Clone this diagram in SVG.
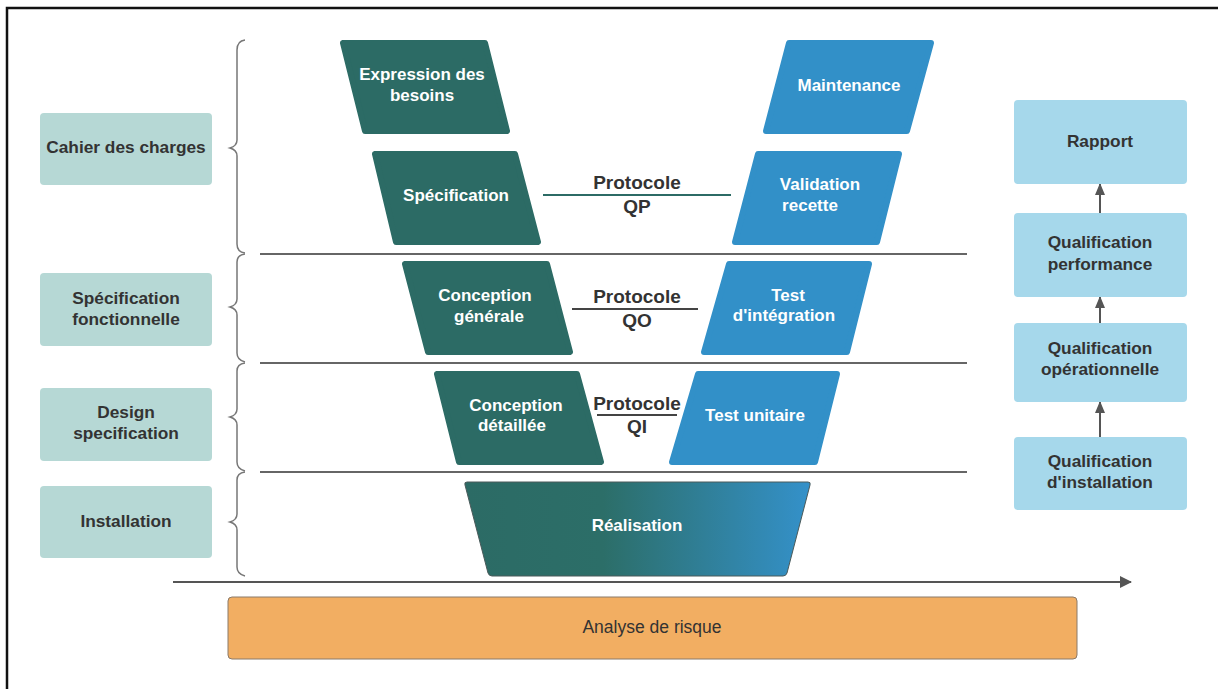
<svg xmlns="http://www.w3.org/2000/svg" width="1218" height="689" viewBox="0 0 1218 689">
<style>
.g{fill:#2c6b65;stroke:#2c6b65;stroke-width:6;stroke-linejoin:round}
.b{fill:#3290c8;stroke:#3290c8;stroke-width:6;stroke-linejoin:round}
.lb{fill:#b6d8d5}
.rb{fill:#a6d8eb}
.wt{font-family:"Liberation Sans",Arial,sans-serif;font-weight:bold;font-size:17px;fill:#ffffff;text-anchor:middle}
.dt{font-family:"Liberation Sans",Arial,sans-serif;font-weight:bold;font-size:17.3px;fill:#333333;text-anchor:middle}
.pt{font-family:"Liberation Sans",Arial,sans-serif;font-weight:bold;font-size:19px;fill:#333333;text-anchor:middle}
.br{fill:none;stroke:#777;stroke-width:1.5}
.hl{stroke:#666;stroke-width:1.8}
.ar{stroke:#555;stroke-width:2;fill:none}
</style>
<defs>
<linearGradient id="grad" x1="0" y1="0" x2="1" y2="0">
<stop offset="0" stop-color="#2c6b65"/>
<stop offset="0.4" stop-color="#2c6e68"/>
<stop offset="1" stop-color="#3491ca"/>
</linearGradient>
<marker id="ah" markerWidth="12" markerHeight="12" refX="11" refY="6" orient="auto" markerUnits="userSpaceOnUse">
<path d="M0,1 L12,6 L0,11 z" fill="#555"/>
</marker>
<marker id="ah2" markerWidth="12" markerHeight="12" refX="11" refY="6" orient="auto" markerUnits="userSpaceOnUse">
<path d="M0,0 L12,6 L0,12 z" fill="#555"/>
</marker>
</defs>
<rect x="0" y="0" width="1218" height="689" fill="#ffffff"/>
<rect x="7" y="8" width="1230" height="700" fill="none" stroke="#111" stroke-width="2.5"/>

<g id="connectors">
<path class="br" d="M245,40 Q237,41 237,50 L237,140 Q237,146 230,148 Q237,150 237,156 L237,244 Q237,252 245,253"/>
<path class="br" d="M237,262 L237,299 Q237,305 230,307 Q237,309 237,315 L237,353 Q237,360 245,362 M237,262 Q237,255 245,254"/>
<path class="br" d="M245,363 Q237,364 237,371 L237,409 Q237,415 230,417 Q237,419 237,425 L237,462 Q237,469 245,471"/>
<path class="br" d="M245,472 Q237,473 237,480 L237,514 Q237,520 230,522 Q237,524 237,530 L237,567 Q237,574 245,576"/>
<line class="hl" x1="260" y1="254" x2="967" y2="254"/>
<line class="hl" x1="260" y1="363" x2="967" y2="363"/>
<line class="hl" x1="260" y1="472" x2="967" y2="472"/>
<line x1="173" y1="582" x2="1131" y2="582" stroke="#555" stroke-width="2" marker-end="url(#ah2)"/>
<line x1="543" y1="195" x2="731" y2="195" stroke="#2c6b65" stroke-width="1.8"/>
<line x1="572" y1="309" x2="698" y2="309" stroke="#444" stroke-width="1.8"/>
<line x1="597" y1="415" x2="677" y2="415" stroke="#444" stroke-width="1.8"/>
<line class="ar" x1="1100" y1="437" x2="1100" y2="402" marker-end="url(#ah)"/>
<line class="ar" x1="1100" y1="323" x2="1100" y2="297" marker-end="url(#ah)"/>
<line class="ar" x1="1100" y1="213" x2="1100" y2="184" marker-end="url(#ah)"/>
</g>

<g id="cahier"><rect class="lb" x="40" y="113" width="172" height="72" rx="4"/><text class="dt" x="126" y="153">Cahier des charges</text></g>
<g id="specfonc"><rect class="lb" x="40" y="273" width="172" height="73" rx="4"/><text class="dt" x="126" y="304">Spécification</text><text class="dt" x="126" y="325">fonctionnelle</text></g>
<g id="designspec"><rect class="lb" x="40" y="388" width="172" height="73" rx="4"/><text class="dt" x="126" y="418">Design</text><text class="dt" x="126" y="439">specification</text></g>
<g id="installation"><rect class="lb" x="40" y="486" width="172" height="72" rx="4"/><text class="dt" x="126" y="527">Installation</text></g>

<g id="expression"><path class="g" d="M343,43 L485,43 L507,131 L365,131 Z"/><text class="wt" x="422" y="80">Expression des</text><text class="wt" x="422" y="101">besoins</text></g>
<g id="specification"><path class="g" d="M375,154 L515,154 L538,242 L396,242 Z"/><text class="wt" x="456" y="201">Spécification</text></g>
<g id="concgen"><path class="g" d="M405,264 L547,264 L570,352 L428,352 Z"/><text class="wt" x="485" y="301">Conception</text><text class="wt" x="489" y="322">générale</text></g>
<g id="concdet"><path class="g" d="M437,374 L577,374 L601,462 L459,462 Z"/><text class="wt" x="516" y="411">Conception</text><text class="wt" x="512" y="431">détaillée</text></g>

<g id="maintenance"><path class="b" d="M789,43 L931,43 L907,131 L766,131 Z"/><text class="wt" x="849" y="91">Maintenance</text></g>
<g id="validation"><path class="b" d="M758,154 L899,154 L877,242 L735,242 Z"/><text class="wt" x="820" y="190">Validation</text><text class="wt" x="810" y="211">recette</text></g>
<g id="testint"><path class="b" d="M729,264 L869,264 L847,352 L704,352 Z"/><text class="wt" x="788" y="301">Test</text><text class="wt" x="784" y="321">d'intégration</text></g>
<g id="testunit"><path class="b" d="M698,374 L837,374 L815,462 L672,462 Z"/><text class="wt" x="755" y="421">Test unitaire</text></g>

<g id="realisation"><path d="M467,482 L808,482 Q811,482 810,485 L787,573 Q786,576 783,576 L492,576 Q489,576 488,573 L465,485 Q464,482 467,482 Z" fill="url(#grad)" stroke="#4a5a5a" stroke-width="1"/><text class="wt" x="637" y="531">Réalisation</text></g>

<g id="protoQP"><text class="pt" x="637" y="189">Protocole</text><text class="pt" x="637" y="213">QP</text></g>
<g id="protoQO"><text class="pt" x="637" y="303">Protocole</text><text class="pt" x="637" y="327">QO</text></g>
<g id="protoQI"><text class="pt" x="637" y="410">Protocole</text><text class="pt" x="637" y="433">QI</text></g>

<g id="rapport"><rect class="rb" x="1014" y="100" width="173" height="84" rx="4"/><text class="dt" x="1100" y="147">Rapport</text></g>
<g id="qperf"><rect class="rb" x="1014" y="213" width="173" height="84" rx="4"/><text class="dt" x="1100" y="248">Qualification</text><text class="dt" x="1100" y="270">performance</text></g>
<g id="qop"><rect class="rb" x="1014" y="323" width="173" height="79" rx="4"/><text class="dt" x="1100" y="354">Qualification</text><text class="dt" x="1100" y="375">opérationnelle</text></g>
<g id="qinst"><rect class="rb" x="1014" y="437" width="173" height="73" rx="4"/><text class="dt" x="1100" y="467">Qualification</text><text class="dt" x="1100" y="488">d'installation</text></g>

<g id="risque"><rect x="228" y="597" width="849" height="62" rx="4" fill="#f2ae62" stroke="#8a7a6a" stroke-width="1"/><text x="652" y="633" text-anchor="middle" font-family="Liberation Sans, Arial, sans-serif" font-size="17.5" fill="#333">Analyse de risque</text></g>
</svg>
